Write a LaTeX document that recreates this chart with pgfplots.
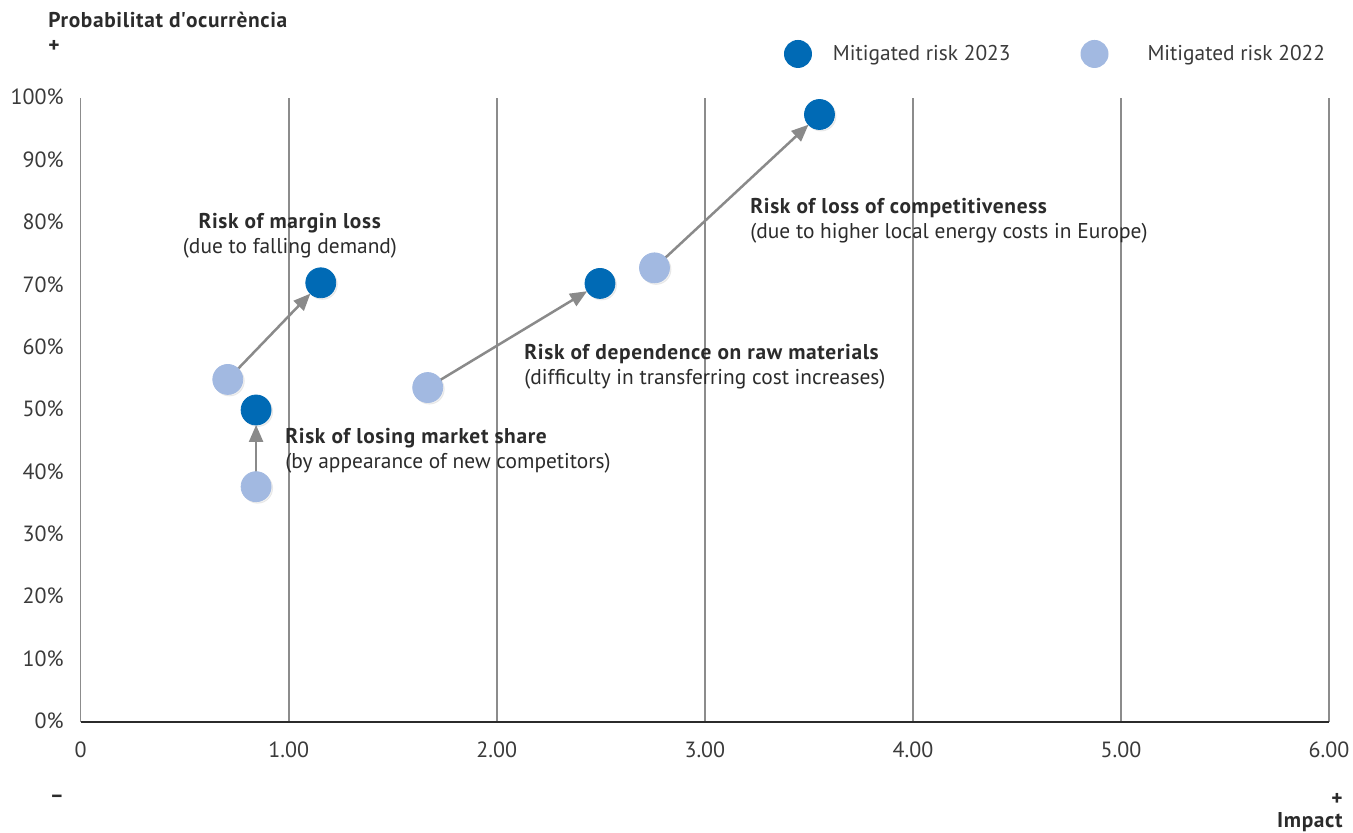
\documentclass[border=0pt]{standalone}
\usepackage{fontspec}
\setmainfont{PT Sans}[BoldFeatures={LetterSpace=3}]
\usepackage{pgfplots}
\usepackage{pgfplotstable}
\pgfplotsset{compat=1.18}
\usetikzlibrary{arrows.meta}

\definecolor{risk23}{HTML}{006AB5}
\definecolor{risk22}{HTML}{A2B9E1}
\definecolor{arrowgray}{HTML}{8A8A8A}
\definecolor{gridgray}{HTML}{8C8C8C}
\definecolor{inkdark}{HTML}{2B2B2B}
\definecolor{labelgray}{HTML}{3A3A3A}

% impact (x) and probability in % (y) of each risk
\pgfplotstableread{
x     y
1.154 70.4
0.843 50.0
2.496 70.3
3.551 97.4
}\riskA
\pgfplotstableread{
x     y
0.707 54.9
0.843 37.7
1.668 53.6
2.758 72.8
}\riskB

\newcommand\lab{\fontsize{10.7}{12.5}\selectfont}

\begin{document}
\begin{tikzpicture}
\path[use as bounding box] (-40.35pt,-55.65pt) rectangle (636.15pt,360.85pt);
\begin{axis}[
  at={(0,0)}, anchor=south west,
  scale only axis, width=624.15pt, height=311.7pt,
  xmin=0, xmax=6, ymin=0, ymax=100,
  axis line style={draw=none},
  clip=false,
  xtick={0,1,...,6},
  xticklabels={0,1.00,2.00,3.00,4.00,5.00,6.00},
  ytick={0,10,...,100},
  yticklabels={0\%,10\%,20\%,30\%,40\%,50\%,60\%,70\%,80\%,90\%,100\%},
  major tick length=0pt,
  xmajorgrids,
  major grid style={gridgray, line width=0.75pt},
  tick label style={font=\fontsize{11}{12}\selectfont, text=labelgray, inner sep=0pt},
  xticklabel style={anchor=north, yshift=-9.7pt},
  yticklabel style={anchor=east, xshift=-8.3pt, yshift=0.5pt},
  legend columns=2,
  legend image code/.code={\fill[#1, draw=none] (7pt,0pt) circle (7pt);},
  legend style={at={(0.5634,1.0711)}, anchor=west, draw=none, fill=none,
    inner sep=0pt, outer sep=0pt, nodes={inner sep=0pt},
    font=\lab\color{labelgray},
    /tikz/every odd column/.append style={column sep=10.5pt},
    /tikz/every even column/.append style={column sep=35pt}},
]
% base line of the impact axis
\draw[inkdark, line width=1pt] (axis cs:0,0) -- (axis cs:6,0);

% shift of each risk from 2022 to 2023
\pgfplotsset{shift/.style={forget plot, arrowgray, line width=1.25pt,
  -{Triangle[length=8.5pt,width=7pt]}, shorten >=7.5pt, shorten <=6pt}}
\addplot[shift] coordinates {(0.707,54.9) (1.154,70.4)};
\addplot[shift] coordinates {(0.843,37.7) (0.843,50.0)};
\addplot[shift] coordinates {(1.668,53.6) (2.496,70.3)};
\addplot[shift] coordinates {(2.758,72.8) (3.551,97.4)};

% soft shadow under the dots
\addplot[forget plot, only marks, mark=*, mark size=7.5pt, black, opacity=0.06,
  mark options={xshift=0.8pt, yshift=-0.8pt}] table {\riskB};
\addplot[forget plot, only marks, mark=*, mark size=7.5pt, risk22] table {\riskB};
\addplot[forget plot, only marks, mark=*, mark size=7.5pt, black, opacity=0.06,
  mark options={xshift=0.8pt, yshift=-0.8pt}] table {\riskA};
\addplot[forget plot, only marks, mark=*, mark size=7.5pt, risk23] table {\riskA};

\addlegendimage{fill=risk23}
\addlegendentry{Mitigated risk 2023}
\addlegendimage{fill=risk22}
\addlegendentry{\hspace*{9pt}Mitigated risk 2022}

% risk descriptions
\node[anchor=center, align=center, inner sep=0pt, font=\lab, text=inkdark]
  at (axis cs:1.006,77.9) {\textbf{Risk of margin loss}\\(due to falling demand)};
\node[anchor=west, align=left, inner sep=0pt, font=\lab, text=inkdark]
  at (axis cs:0.982,43.4) {\textbf{Risk of losing market share}\\(by appearance of new competitors)};
\node[anchor=west, align=left, inner sep=0pt, font=\lab, text=inkdark]
  at (axis cs:2.131,56.9) {\textbf{Risk of dependence on raw materials}\\(difficulty in transferring cost increases)};
\node[anchor=west, align=left, inner sep=0pt, font=\lab, text=inkdark]
  at (axis cs:3.217,80.3) {\textbf{Risk of loss of competitiveness}\\(due to higher local energy costs in Europe)};
\end{axis}

% axis titles and direction signs
\node[anchor=west, inner sep=0pt, font=\lab\bfseries, text=inkdark]
  at (-16.35pt,350.85pt) {Probabilitat d\textquotesingle ocurrència};
\node[anchor=west, inner sep=0pt, font=\lab\bfseries, text=inkdark]
  at (-16.35pt,337.4pt) {+};
\node[inner sep=0pt, font=\lab\bfseries, text=inkdark]
  at (-11.85pt,-38.65pt) {–};
\node[inner sep=0pt, font=\lab\bfseries, text=inkdark]
  at (628.15pt,-38.65pt) {+};
\node[anchor=east, inner sep=0pt, font=\lab\bfseries, text=inkdark]
  at (631.15pt,-50.15pt) {Impact};
\end{tikzpicture}
\end{document}
